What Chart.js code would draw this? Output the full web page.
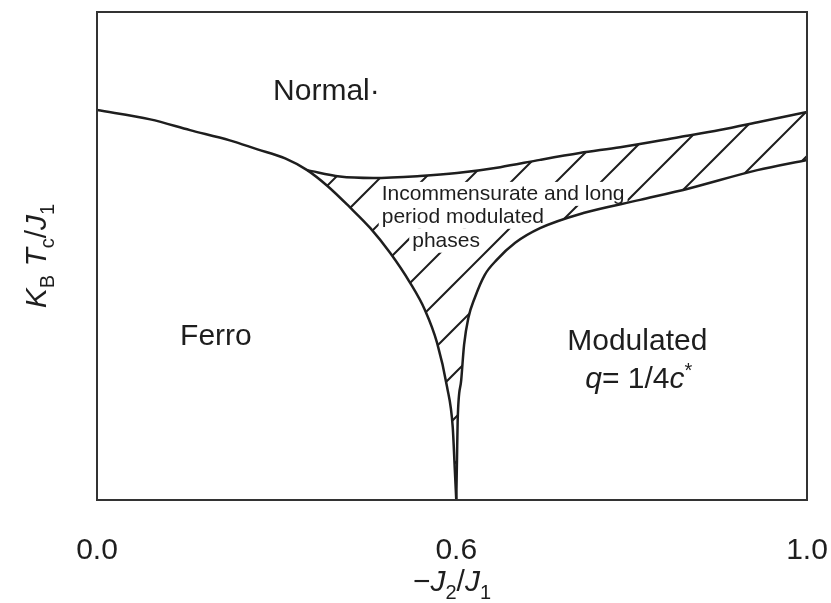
<!DOCTYPE html>
<html><head><meta charset="utf-8">
<script src="https://cdn.jsdelivr.net/npm/chart.js@4/dist/chart.umd.min.js"></script>
<style>html,body{margin:0;padding:0;background:#fff}#wrap{width:831px;height:603px;position:relative}</style>
</head><body><div id="wrap"><canvas id="c"></canvas></div>
<script>
// ---- data (schematic phase diagram; x in axis-position units, y in relative K_B T_c/J_1 units)
const xTickValues = [0, 0.506, 1];
const xTickLabels = ['0.0', '0.6', '1.0'];

// Ferro / Normal and Ferro / incommensurate boundary
const ferroX = [0, 0.075, 0.131, 0.187, 0.225, 0.265, 0.296, 0.325, 0.356, 0.385, 0.413, 0.441, 0.462, 0.479, 0.493, 0.501, 0.504, 0.506];
const ferroY = [0.799, 0.780, 0.758, 0.737, 0.719, 0.700, 0.676, 0.643, 0.600, 0.557, 0.506, 0.445, 0.389, 0.322, 0.232, 0.150, 0.061, 0];
// Normal / incommensurate boundary
const upperX = [0.296, 0.342, 0.389, 0.455, 0.507, 0.568, 0.624, 0.680, 0.737, 0.821, 0.877, 0.934, 1.0];
const upperY = [0.676, 0.663, 0.660, 0.664, 0.670, 0.682, 0.697, 0.711, 0.723, 0.744, 0.758, 0.775, 0.795];
// incommensurate / Modulated boundary
const lowerX = [0.506, 0.507, 0.508, 0.513, 0.517, 0.523, 0.532, 0.546, 0.563, 0.589, 0.624, 0.685, 0.765, 0.835, 0.930, 1.0];
const lowerY = [0, 0.082, 0.164, 0.246, 0.318, 0.373, 0.414, 0.461, 0.492, 0.527, 0.557, 0.588, 0.615, 0.639, 0.676, 0.697];

// ---- helpers
const pts = (xs, ys) => xs.map((x, i) => ({x, y: ys[i]}));
const junction = ferroX.indexOf(upperX[0]);
const hatchShape = [
  ...pts(upperX, upperY),
  ...pts(lowerX, lowerY).reverse(),
  ...pts(ferroX.slice(junction), ferroY.slice(junction)).reverse()
];

const FAM = '"Liberation Sans", Arial, Helvetica, sans-serif';
const INK = '#1e1e1e';

function hatchPattern() {
  const s = 45, c = document.createElement('canvas');
  c.width = s; c.height = s;
  const g = c.getContext('2d');
  g.strokeStyle = INK; g.lineWidth = 2; g.lineCap = 'square';
  g.beginPath();
  g.moveTo(-2, 20); g.lineTo(20, -2);
  g.moveTo(16, 47); g.lineTo(47, 16);
  g.stroke();
  return g.createPattern(c, 'repeat');
}

function drawRich(ctx, parts, x, y, align, size) {
  const fontOf = p => `${p.it ? 'italic ' : ''}${(p.sub || p.sup) ? Math.round(size * 0.68) : size}px ${FAM}`;
  let w = 0;
  parts.forEach(p => { ctx.font = fontOf(p); p.w = ctx.measureText(p.t).width; w += p.w; });
  let cx = align === 'center' ? x - w / 2 : align === 'right' ? x - w : x;
  ctx.textAlign = 'left'; ctx.textBaseline = 'alphabetic';
  parts.forEach(p => {
    ctx.font = fontOf(p);
    const dy = p.sub ? size * 0.27 : p.sup ? -size * 0.36 : 0;
    ctx.fillText(p.t, cx, y + dy);
    cx += p.w;
  });
}

// ---- annotation text (positions in data units)
const incommLines = [
  {text: 'Incommensurate and long', x: 0.401, y: 0.615},
  {text: 'period modulated', x: 0.401, y: 0.568},
  {text: 'phases', x: 0.444, y: 0.519}
];
const regionLabels = [
  {parts: [{t: 'Normal·'}], x: 0.248, y: 0.820, align: 'left'},
  {parts: [{t: 'Ferro'}], x: 0.117, y: 0.318, align: 'left'},
  {parts: [{t: 'Modulated'}], x: 0.761, y: 0.307, align: 'center'},
  {parts: [{t: 'q', it: true}, {t: '= 1/4'}, {t: 'c', it: true}, {t: '*', sup: true}], x: 0.763, y: 0.230, align: 'center'}
];

const decor = {
  id: 'decor',
  afterDatasetDraw(chart, args) {
    if (args.index !== 3) return;
    const {ctx, scales: {x, y}} = chart;
    ctx.save();
    ctx.fillStyle = '#fff';
    ctx.font = `21px ${FAM}`;
    incommLines.forEach(l => {
      const px = x.getPixelForValue(l.x), py = y.getPixelForValue(l.y);
      const w = ctx.measureText(l.text).width;
      ctx.fillRect(px - 3, py - 18, w + 6, 24);
    });
    ctx.restore();
  },
  afterDatasetsDraw(chart) {
    const {ctx, chartArea: a, scales: {x, y}} = chart;
    ctx.save();
    ctx.strokeStyle = '#333'; ctx.lineWidth = 2;
    ctx.strokeRect(a.left, a.top, a.right - a.left, a.bottom - a.top);
    ctx.fillStyle = INK;
    ctx.font = `21px ${FAM}`; ctx.textAlign = 'left'; ctx.textBaseline = 'alphabetic';
    incommLines.forEach(l => ctx.fillText(l.text, x.getPixelForValue(l.x), y.getPixelForValue(l.y)));
    regionLabels.forEach(l => drawRich(ctx, l.parts, x.getPixelForValue(l.x), y.getPixelForValue(l.y), l.align, 30));
    // axis titles
    drawRich(ctx, [{t: '\u2212'}, {t: 'J', it: true}, {t: '2', sub: true}, {t: '/'}, {t: 'J', it: true}, {t: '1', sub: true}],
      (a.left + a.right) / 2, 591, 'center', 30);
    ctx.translate(46, (a.top + a.bottom) / 2);
    ctx.rotate(-Math.PI / 2);
    drawRich(ctx, [{t: 'K', it: true}, {t: 'B', sub: true}, {t: ' '}, {t: 'T', it: true}, {t: 'c', sub: true}, {t: '/'}, {t: 'J', it: true}, {t: '1', sub: true}],
      0, 0, 'center', 30);
    ctx.restore();
  }
};

const lineStyle = {borderColor: INK, borderWidth: 2.5, pointRadius: 0, cubicInterpolationMode: 'monotone', fill: false};

new Chart(document.getElementById('c'), {
  type: 'line',
  data: {
    datasets: [
      {label: 'Ferro boundary', data: pts(ferroX, ferroY), ...lineStyle},
      {label: 'Normal boundary', data: pts(upperX, upperY), ...lineStyle},
      {label: 'Modulated boundary', data: pts(lowerX, lowerY), ...lineStyle},
      {label: 'Incommensurate region', data: hatchShape, borderWidth: 0, borderColor: 'rgba(0,0,0,0)',
        pointRadius: 0, tension: 0, fill: 'shape', backgroundColor: hatchPattern()}
    ]
  },
  options: {
    responsive: true, maintainAspectRatio: false, animation: false,
    layout: {padding: {left: 0, top: 12, right: 24, bottom: 0}},
    plugins: {legend: {display: false}, tooltip: {enabled: false}},
    scales: {
      x: {
        type: 'linear', min: 0, max: 1,
        afterBuildTicks: s => { s.ticks = xTickValues.map(v => ({value: v})); },
        afterFit: s => { s.height = 103; s.paddingLeft = 0; s.paddingRight = 0; },
        ticks: {callback: (v, i) => xTickLabels[i], font: {family: FAM, size: 30}, color: INK, padding: 33, maxRotation: 0, autoSkip: false},
        grid: {display: false, drawTicks: false}, border: {display: false}
      },
      y: {
        type: 'linear', min: 0, max: 1,
        afterFit: s => { s.width = 97; s.paddingTop = 0; s.paddingBottom = 0; },
        ticks: {display: false},
        grid: {display: false, drawTicks: false}, border: {display: false}
      }
    }
  },
  plugins: [decor]
});
</script></body></html>
